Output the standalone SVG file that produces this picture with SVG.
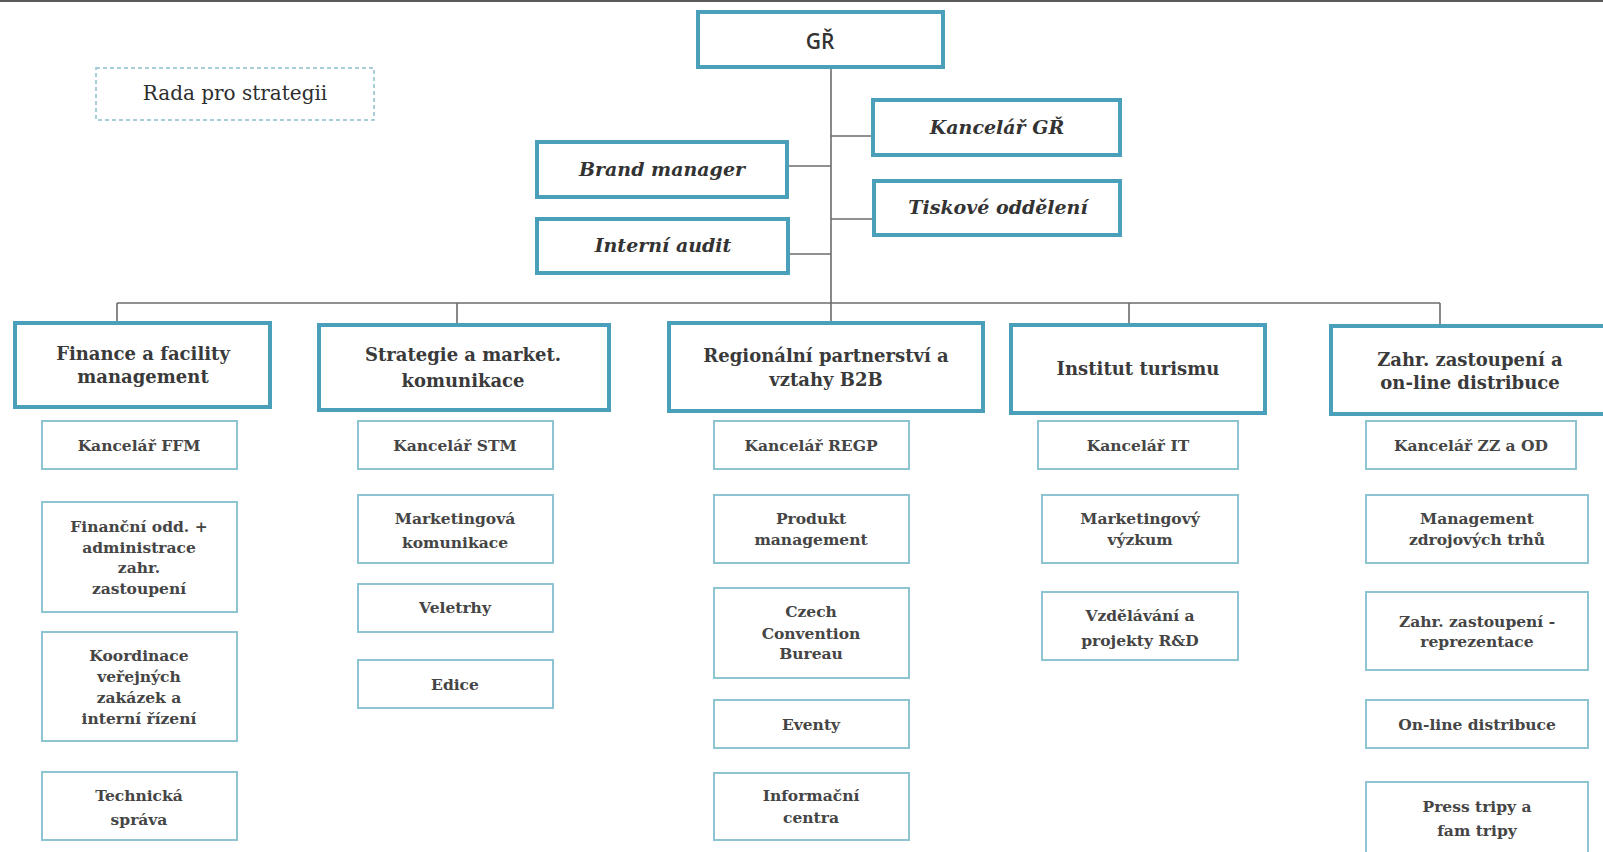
<svg xmlns="http://www.w3.org/2000/svg" width="1603" height="852" viewBox="0 0 1603 852">
<defs>
<style>
.bg{fill:#ffffff}
.thick{fill:#ffffff;stroke:#4a9fba;stroke-width:4}
.thin{fill:#ffffff;stroke:#8cc4d2;stroke-width:2}
.dash{fill:#ffffff;stroke:#8cbfcc;stroke-width:1.5;stroke-dasharray:4 3}
.conn{fill:none;stroke:#6b6b6b;stroke-width:1.6}
.t2{font-family:"DejaVu Serif","Liberation Serif",serif;font-weight:bold;font-size:18px;fill:#3a3a3a;text-anchor:middle}
.t3{font-family:"DejaVu Serif","Liberation Serif",serif;font-weight:bold;font-size:15.5px;fill:#454545;text-anchor:middle}
.ti{font-family:"DejaVu Serif","Liberation Serif",serif;font-weight:bold;font-style:italic;font-size:19px;fill:#333333;text-anchor:middle}
.tg{font-family:"Open Sans","Noto Sans",sans-serif;font-weight:600;font-size:21px;fill:#333333;text-anchor:middle}
.tr{font-family:"DejaVu Serif","Liberation Serif",serif;font-size:20px;fill:#2e2e2e;text-anchor:middle}
</style>
</defs>
<rect class="bg" x="0" y="0" width="1603" height="852"/>
<line x1="0" y1="1" x2="1603" y2="1" stroke="#5a5a5a" stroke-width="2"/>

<g id="connectors">
<line class="conn" x1="831" y1="67" x2="831" y2="323"/>
<line class="conn" x1="831" y1="136" x2="873" y2="136"/>
<line class="conn" x1="831" y1="219" x2="874" y2="219"/>
<line class="conn" x1="787" y1="166" x2="831" y2="166"/>
<line class="conn" x1="787" y1="254" x2="831" y2="254"/>
<line class="conn" x1="117" y1="303" x2="1440" y2="303"/>
<line class="conn" x1="117" y1="303" x2="117" y2="323"/>
<line class="conn" x1="457" y1="303" x2="457" y2="325"/>
<line class="conn" x1="1129" y1="303" x2="1129" y2="325"/>
<line class="conn" x1="1440" y1="303" x2="1440" y2="327"/>
</g>

<g id="rada">
<rect class="dash" x="96" y="68" width="278" height="52"/>
<text class="tr" x="235" y="100">Rada pro strategii</text>
</g>

<g id="gr">
<rect class="thick" x="698" y="12" width="245" height="55"/>
<text class="tg" x="820" y="49">GŘ</text>
</g>

<g id="kancelar-gr">
<rect class="thick" x="873" y="100" width="247" height="55"/>
<text class="ti" x="997" y="134">Kancelář GŘ</text>
</g>
<g id="tiskove">
<rect class="thick" x="874" y="181" width="246" height="54"/>
<text class="ti" x="998" y="214">Tiskové oddělení</text>
</g>
<g id="brand">
<rect class="thick" x="537" y="142" width="250" height="55"/>
<text class="ti" x="662" y="176">Brand manager</text>
</g>
<g id="audit">
<rect class="thick" x="537" y="219" width="251" height="54"/>
<text class="ti" x="663" y="252">Interní audit</text>
</g>

<g id="ffm">
<rect class="thick" x="15" y="323" width="255" height="84"/>
<text class="t2" x="143" y="360">Finance a facility</text>
<text class="t2" x="143" y="383">management</text>
</g>
<g id="stm">
<rect class="thick" x="319" y="325" width="290" height="85"/>
<text class="t2" x="463" y="361">Strategie a market.</text>
<text class="t2" x="463" y="387">komunikace</text>
</g>
<g id="regp">
<rect class="thick" x="669" y="323" width="314" height="88"/>
<text class="t2" x="826" y="362">Regionální partnerství a</text>
<text class="t2" x="826" y="386">vztahy B2B</text>
</g>
<g id="it">
<rect class="thick" x="1011" y="325" width="254" height="88"/>
<text class="t2" x="1138" y="375">Institut turismu</text>
</g>
<g id="zz">
<rect class="thick" x="1331" y="326" width="280" height="88"/>
<text class="t2" x="1470" y="366">Zahr. zastoupení a</text>
<text class="t2" x="1470" y="389">on-line distribuce</text>
</g>

<g id="kancelar-ffm">
<rect class="thin" x="42" y="421" width="195" height="48"/>
<text class="t3" x="139" y="451">Kancelář FFM</text>
</g>
<g id="financni">
<rect class="thin" x="42" y="502" width="195" height="110"/>
<text class="t3" x="139" y="532">Finanční odd. +</text>
<text class="t3" x="139" y="553">administrace</text>
<text class="t3" x="139" y="573">zahr.</text>
<text class="t3" x="139" y="594">zastoupení</text>
</g>
<g id="koordinace">
<rect class="thin" x="42" y="632" width="195" height="109"/>
<text class="t3" x="139" y="661">Koordinace</text>
<text class="t3" x="139" y="682">veřejných</text>
<text class="t3" x="139" y="703">zakázek a</text>
<text class="t3" x="139" y="724">interní řízení</text>
</g>
<g id="technicka">
<rect class="thin" x="42" y="772" width="195" height="68"/>
<text class="t3" x="139" y="801">Technická</text>
<text class="t3" x="139" y="825">správa</text>
</g>

<g id="kancelar-stm">
<rect class="thin" x="358" y="421" width="195" height="48"/>
<text class="t3" x="455" y="451">Kancelář STM</text>
</g>
<g id="mk">
<rect class="thin" x="358" y="495" width="195" height="68"/>
<text class="t3" x="455" y="524">Marketingová</text>
<text class="t3" x="455" y="548">komunikace</text>
</g>
<g id="veletrhy">
<rect class="thin" x="358" y="584" width="195" height="48"/>
<text class="t3" x="455" y="613">Veletrhy</text>
</g>
<g id="edice">
<rect class="thin" x="358" y="660" width="195" height="48"/>
<text class="t3" x="455" y="690">Edice</text>
</g>

<g id="kancelar-regp">
<rect class="thin" x="714" y="421" width="195" height="48"/>
<text class="t3" x="811" y="451">Kancelář REGP</text>
</g>
<g id="produkt">
<rect class="thin" x="714" y="495" width="195" height="68"/>
<text class="t3" x="811" y="524">Produkt</text>
<text class="t3" x="811" y="545">management</text>
</g>
<g id="ccb">
<rect class="thin" x="714" y="588" width="195" height="90"/>
<text class="t3" x="811" y="617">Czech</text>
<text class="t3" x="811" y="639">Convention</text>
<text class="t3" x="811" y="659">Bureau</text>
</g>
<g id="eventy">
<rect class="thin" x="714" y="700" width="195" height="48"/>
<text class="t3" x="811" y="730">Eventy</text>
</g>
<g id="ic">
<rect class="thin" x="714" y="773" width="195" height="67"/>
<text class="t3" x="811" y="801">Informační</text>
<text class="t3" x="811" y="823">centra</text>
</g>

<g id="kancelar-it">
<rect class="thin" x="1038" y="421" width="200" height="48"/>
<text class="t3" x="1138" y="451">Kancelář IT</text>
</g>
<g id="mv">
<rect class="thin" x="1042" y="495" width="196" height="68"/>
<text class="t3" x="1140" y="524">Marketingový</text>
<text class="t3" x="1140" y="545">výzkum</text>
</g>
<g id="vzdelavani">
<rect class="thin" x="1042" y="592" width="196" height="68"/>
<text class="t3" x="1140" y="621">Vzdělávání a</text>
<text class="t3" x="1140" y="646">projekty R&amp;D</text>
</g>

<g id="kancelar-zz">
<rect class="thin" x="1366" y="421" width="210" height="48"/>
<text class="t3" x="1471" y="451">Kancelář ZZ a OD</text>
</g>
<g id="mzt">
<rect class="thin" x="1366" y="495" width="222" height="68"/>
<text class="t3" x="1477" y="524">Management</text>
<text class="t3" x="1477" y="545">zdrojových trhů</text>
</g>
<g id="zzr">
<rect class="thin" x="1366" y="592" width="222" height="78"/>
<text class="t3" x="1477" y="627">Zahr. zastoupení -</text>
<text class="t3" x="1477" y="647">reprezentace</text>
</g>
<g id="online">
<rect class="thin" x="1366" y="700" width="222" height="48"/>
<text class="t3" x="1477" y="730">On-line distribuce</text>
</g>
<g id="press">
<rect class="thin" x="1366" y="782" width="222" height="80"/>
<text class="t3" x="1477" y="812">Press tripy a</text>
<text class="t3" x="1477" y="836">fam tripy</text>
</g>
</svg>
